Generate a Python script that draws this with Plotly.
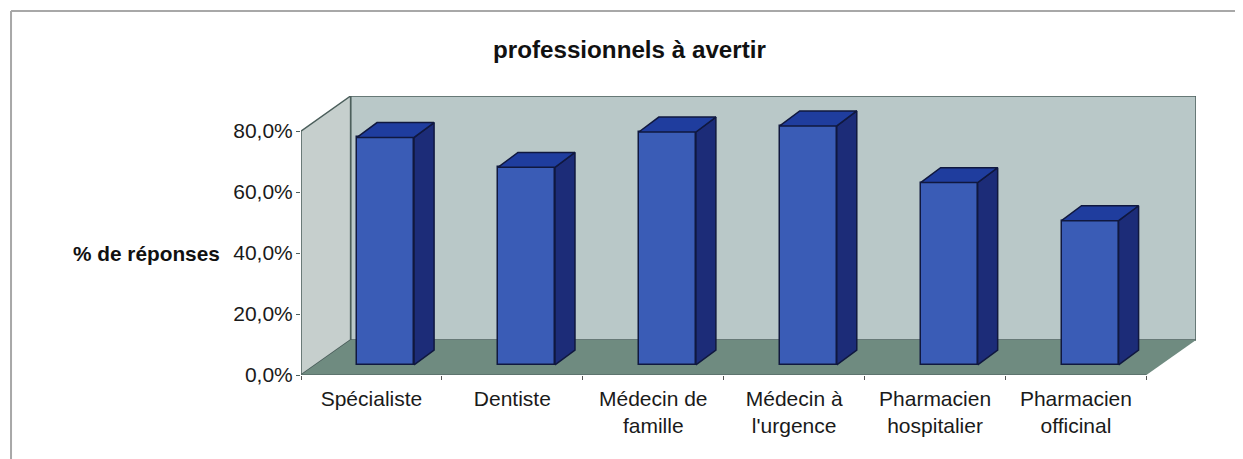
import plotly.graph_objects as go

categories = ["Spécialiste", "Dentiste", "Médecin de<br>famille", "Médecin à<br>l'urgence",
              "Pharmacien<br>hospitalier", "Pharmacien<br>officinal"]
values = [74.6, 64.8, 76.4, 78.4, 59.8, 47.3]
y_ticks = [0, 20, 40, 60, 80]
y_labels = ["0,0%", "20,0%", "40,0%", "60,0%", "80,0%"]

# fake 3d: depth of the chart box and of the bars, in axis units
depth_x, depth_y = 0.352, 11.5
bar_width = 0.405
bar_shift_x, bar_shift_y = 0.1, 3.3
bar_depth_x, bar_depth_y = 0.142, 4.9

FONT = "Liberation Sans"
EDGE = "#10183f"
n = len(categories)
xs = [i + 0.5 + bar_shift_x for i in range(n)]

fig = go.Figure()

# front faces
fig.add_trace(go.Bar(
    x=xs, y=values, base=[bar_shift_y] * n, width=bar_width,
    marker=dict(color="#3a5cb6", line=dict(color=EDGE, width=1.5)),
    hoverinfo="skip", showlegend=False,
))

# side and top faces
for x, v in zip(xs, values):
    left, right = x - bar_width / 2, x + bar_width / 2
    low, high = bar_shift_y, bar_shift_y + v
    fig.add_trace(go.Scatter(
        x=[right, right + bar_depth_x, right + bar_depth_x, right, right],
        y=[low, low + bar_depth_y, high + bar_depth_y, high, low],
        mode="lines", fill="toself", fillcolor="#1c2c78",
        line=dict(color=EDGE, width=1.5), hoverinfo="skip", showlegend=False,
    ))
    fig.add_trace(go.Scatter(
        x=[left, left + bar_depth_x, right + bar_depth_x, right, left],
        y=[high, high + bar_depth_y, high + bar_depth_y, high, high],
        mode="lines", fill="toself", fillcolor="#1f3d9e",
        line=dict(color=EDGE, width=1.5), hoverinfo="skip", showlegend=False,
    ))

top = y_ticks[-1]
wall_line = dict(color="#4c5f5c", width=1.5)
walls = [
    # back wall
    dict(path=f"M {depth_x} {depth_y} L {n + depth_x} {depth_y} L {n + depth_x} {top + depth_y} "
              f"L {depth_x} {top + depth_y} Z", fillcolor="#b9c8c8", line=wall_line),
    # left wall
    dict(path=f"M 0 0 L {depth_x} {depth_y} L {depth_x} {top + depth_y} L 0 {top} Z",
         fillcolor="#c6cfcd", line=wall_line),
    # floor
    dict(path=f"M 0 0 L {n} 0 L {n + depth_x} {depth_y} L {depth_x} {depth_y} Z",
         fillcolor="#6f8b80", line=dict(width=0)),
]
shapes = [dict(type="path", xref="x", yref="y", layer="below", **w) for w in walls]
# baseline along the front of the floor
shapes.append(dict(type="line", xref="x", yref="y", x0=0, x1=n, y0=0, y1=0, layer="below",
                   line=dict(color="#4c5f5c", width=1.2)))
# scanned frame: only its top and left edges show
frame_line = dict(color="#a8a8a8", width=2)
shapes.append(dict(type="line", xref="paper", yref="paper", x0=-0.324, x1=1.0525, y0=1.3047, y1=1.3047,
                   layer="below", line=frame_line))
shapes.append(dict(type="line", xref="paper", yref="paper", x0=-0.324, x1=-0.324, y0=1.3047, y1=-0.301,
                   layer="below", line=frame_line))

fig.update_layout(
    width=1235, height=451,
    margin=dict(l=293, r=47, t=88, b=84),
    paper_bgcolor="white", plot_bgcolor="white",
    font=dict(family=FONT, size=21, color="#1a1a1a"),
    shapes=shapes,
    title=dict(text="<b>professionnels à avertir</b>", x=0.5032, xanchor="center", y=0.907, yanchor="middle",
               font=dict(family=FONT, size=24.2, color="#111111")),
    annotations=[dict(text="<b>% de réponses</b>", xref="paper", yref="y", x=-0.0885, y=40,
                      xanchor="right", yanchor="middle", showarrow=False,
                      font=dict(family=FONT, size=20.8, color="#111111"))],
    bargap=0,
    xaxis=dict(range=[0, n + depth_x], tickmode="array", tickvals=[i + 0.5 for i in range(n)],
               ticktext=categories, ticks="", showgrid=False, zeroline=False, showline=False,
               tickangle=0, ticklabelstandoff=9, tickfont=dict(family=FONT, size=21),
               minor=dict(tickmode="array", tickvals=list(range(n + 1)), ticks="outside", ticklen=4,
                          tickcolor="#555555", showgrid=False)),
    yaxis=dict(range=[0, top + depth_y], tickmode="array", tickvals=y_ticks, ticktext=y_labels,
               ticks="outside", ticklen=4, tickcolor="#4c5f5c", showgrid=False, zeroline=False,
               showline=False, ticklabelstandoff=-1, tickfont=dict(family=FONT, size=21)),
)

fig.write_html("out.html", config=dict(displayModeBar=False))
